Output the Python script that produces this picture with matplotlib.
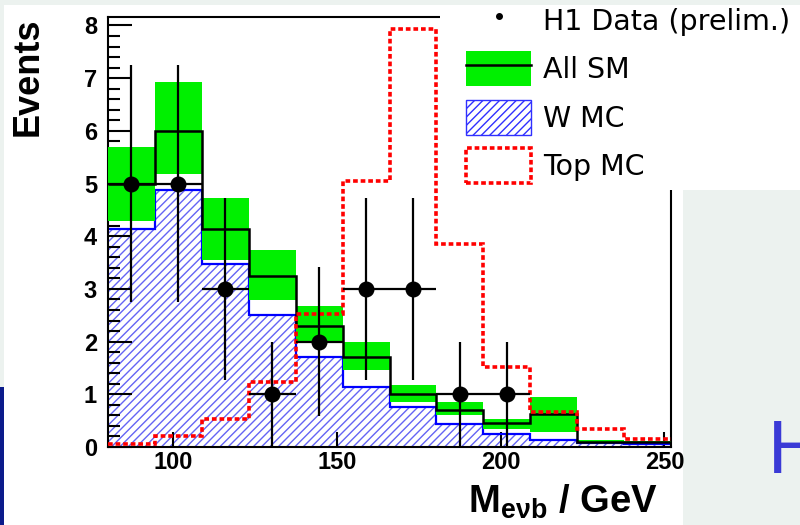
import numpy as np
import matplotlib
matplotlib.use('Agg')
import matplotlib.pyplot as plt
from matplotlib.patches import Rectangle, Patch
from matplotlib.lines import Line2D
from matplotlib.ticker import MultipleLocator

plt.rcParams['font.family'] = ['Liberation Sans', 'DejaVu Sans']
plt.rcParams['mathtext.fontset'] = 'custom'
plt.rcParams['mathtext.rm'] = 'Liberation Sans'
plt.rcParams['mathtext.bf'] = 'Liberation Sans:bold'
plt.rcParams['mathtext.it'] = 'Liberation Sans:italic'
plt.rcParams['hatch.linewidth'] = 1.0

# ---------------- data ----------------
bin_edges = [80.0, 94.33, 108.67, 123.0, 137.33, 151.67, 166.0,
             180.33, 194.67, 209.0, 223.33, 237.67, 252.0]
data_counts = [5, 5, 3, 1, 2, 3, 3, 1, 1]
data_err_low = [2.24, 2.24, 1.73, 1.0, 1.41, 1.73, 1.73, 1.0, 1.0]
data_err_high = [2.24, 2.24, 1.73, 1.0, 1.41, 1.73, 1.73, 1.0, 1.0]
all_sm = [5.0, 6.0, 4.13, 3.24, 2.30, 1.71, 1.0, 0.71, 0.45, 0.62, 0.10, 0.09]
all_sm_low = [4.29, 5.19, 3.54, 2.79, 1.97, 1.46, 0.86, 0.61, 0.34, 0.29, 0.08, 0.07]
all_sm_high = [5.70, 6.93, 4.73, 3.74, 2.68, 2.00, 1.18, 0.86, 0.54, 0.95, 0.13, 0.12]
w_mc = [4.13, 4.88, 3.47, 2.50, 1.70, 1.14, 0.76, 0.43, 0.24, 0.13, 0.07, 0.05]
top_mc = [0.05, 0.21, 0.54, 1.24, 2.52, 5.05, 7.93, 3.85, 1.52, 0.67, 0.35, 0.16]

x_ticks = [100, 150, 200, 250]
x_tick_labels = ['100', '150', '200', '250']
y_ticks = [0, 1, 2, 3, 4, 5, 6, 7, 8]
y_tick_labels = ['0', '1', '2', '3', '4', '5', '6', '7', '8']
legend_labels = ['H1 Data (prelim.)', 'All SM', 'W MC', 'Top MC']

# ---------------- figure ----------------
W, H = 800, 525
fig = plt.figure(figsize=(W / 100, H / 100), dpi=100, facecolor='#ecf2ef')

# white canvas of the original plot
fig.add_artist(Rectangle((4 / W, 0), 679 / W, 520 / H, transform=fig.transFigure,
                         facecolor='white', edgecolor='none', zorder=-5))
fig.add_artist(Rectangle((0, 0), 4 / W, 138 / H, transform=fig.transFigure,
                         facecolor='#0b1b8b', edgecolor='none', zorder=-4))

ax = fig.add_axes([108 / W, 78 / H, 563 / W, 430 / H])
ax.set_facecolor('white')

edges = np.array(bin_edges)
widths = np.diff(edges)
centers = 0.5 * (edges[:-1] + edges[1:])
nd = len(data_counts)

# W MC hatched
ax.stairs(w_mc, edges, baseline=0, fill=True, facecolor='none',
          edgecolor='#6464f4', hatch='////', lw=0, zorder=1)
ax.stairs(w_mc, edges, baseline=None, color='#0000ff', lw=1.6, zorder=2)

# All SM uncertainty band
low = np.array(all_sm_low)
high = np.array(all_sm_high)
ax.bar(edges[:-1], high - low, bottom=low, width=widths, align='edge',
       color='#00f000', lw=0, zorder=3)
ax.stairs(all_sm, edges, baseline=None, color='black', lw=1.8, zorder=4)

# Top MC
ax.stairs(top_mc, edges, baseline=None, color='#ff0000', lw=2.6,
          linestyle=(0, (1.3, 0.8)), zorder=5)

# data
ax.errorbar(centers[:nd], data_counts, yerr=[data_err_low, data_err_high],
            xerr=widths[:nd] / 2, fmt='o', color='black', ms=10.5,
            elinewidth=1.6, capsize=0, zorder=6)

ax.set_xlim(bin_edges[0], bin_edges[-1])
ax.set_ylim(0, 8.16)
ax.set_xticks(x_ticks, labels=x_tick_labels, fontweight='bold', fontsize=17)
ax.set_yticks(y_ticks, labels=y_tick_labels, fontweight='bold', fontsize=17)
ax.yaxis.set_minor_locator(MultipleLocator(0.2))
ax.tick_params(axis='both', which='both', direction='in', color='black')
ax.tick_params(axis='y', which='major', length=17, width=1.5, pad=8)
ax.tick_params(axis='y', which='minor', length=8.5, width=1.5)
ax.tick_params(axis='x', which='major', length=11, width=1.5, pad=3)
for s in ax.spines.values():
    s.set_linewidth(1.5)

ax.set_ylabel('Events', fontsize=26, fontweight='bold', loc='top')
ax.yaxis.set_label_coords(-0.110, 0.998)
ax.set_xlabel(r'$\mathbf{M_{e\nu b}\ /\ GeV}$', fontsize=27.5, loc='right')
ax.xaxis.label.set_va('baseline')
ax.xaxis.set_label_coords(0.977, -0.153)

# legend area (covers top-right corner of the frame)
fig.add_artist(Rectangle((440 / W, 1 - 190 / H), 360 / W, 185 / H,
                         transform=fig.transFigure, facecolor='white',
                         edgecolor='none', zorder=10))
handles = [
    Line2D([], [], marker='o', ls='none', color='black', ms=4),
    (Patch(facecolor='#00f000', edgecolor='none'),
     Line2D([], [], color='black', lw=1.8)),
    Patch(facecolor='white', edgecolor='#3030ff', hatch='////', lw=1.0),
    Patch(facecolor='white', edgecolor='#ff0000', lw=2.6,
          linestyle=(0, (1.3, 0.8))),
]
leg = fig.legend(handles, legend_labels, loc='upper left',
                 bbox_to_anchor=(466 / W, 1 - 3 / H), frameon=False,
                 prop={'family': 'DejaVu Sans', 'size': 20.5},
                 handlelength=2.3, handleheight=1.5, handletextpad=0.42,
                 labelspacing=0.48, borderpad=0, borderaxespad=0)
leg.set_zorder(12)

# fragment of slide text at the right edge
fig.text(767 / W, 1 - 473 / H, 'H', fontsize=52, color='#3a3ad6',
         family='DejaVu Sans', va='baseline', ha='left')

fig.savefig('out.png', dpi=100, facecolor=fig.get_facecolor())
